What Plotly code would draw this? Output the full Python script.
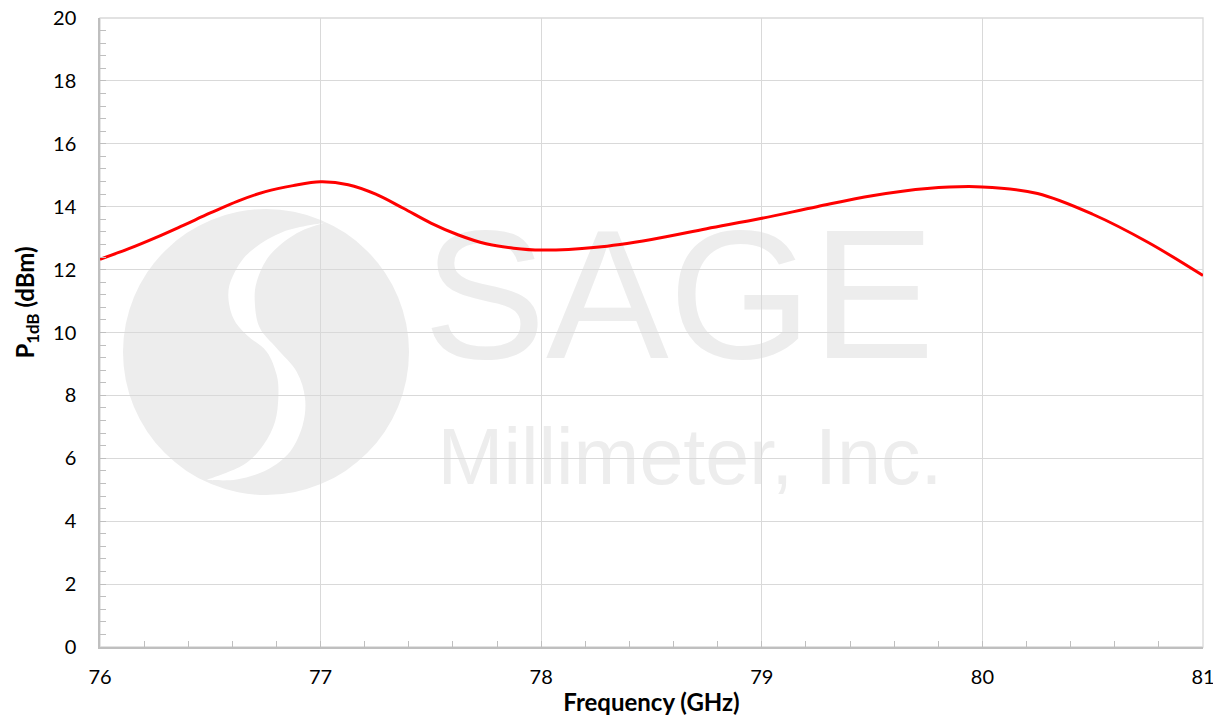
import plotly.graph_objects as go

# Data
freq_ghz = [76.0, 76.125, 76.25, 76.375, 76.5, 76.625, 76.75, 76.875, 77.0, 77.125,
            77.25, 77.375, 77.5, 77.625, 77.75, 77.875, 78.0, 78.25, 78.5,
            78.75, 79.0, 79.25, 79.5, 79.75, 80.0, 80.25, 80.5, 80.75, 81.0]
p1db_dbm = [12.33, 12.65, 13.01, 13.40, 13.80, 14.18, 14.48, 14.67, 14.79, 14.70,
            14.40, 13.95, 13.48, 13.10, 12.82, 12.68, 12.62, 12.71, 12.96,
            13.30, 13.63, 14.00, 14.35, 14.58, 14.63, 14.42, 13.76, 12.87, 11.81]

x_ticks = [76, 77, 78, 79, 80, 81]
y_ticks = [0, 2, 4, 6, 8, 10, 12, 14, 16, 18, 20]

# page has an 8px body margin; size the figure so the plot area lands in place
OFF = 8
W, H = 1212, 708
L, R, T, B = 92, 17, 10, 69
pw, ph = W - L - R, H - T - B


def px2paper(px, py):
    """page pixel -> paper coordinates (decoration only)"""
    return (px - OFF - L) / pw, (H - B - (py - OFF)) / ph


def smooth_path(points):
    """Catmull-Rom through pixel points -> cubic bezier path string in paper coords."""
    pts = [px2paper(a, b) for a, b in points]
    out = [f"M {pts[0][0]:.4f},{pts[0][1]:.4f}"]
    n = len(pts)
    for i in range(n - 1):
        p0 = pts[i - 1] if i > 0 else pts[i]
        p1, p2 = pts[i], pts[i + 1]
        p3 = pts[i + 2] if i + 2 < n else pts[i + 1]
        c1 = (p1[0] + (p2[0] - p0[0]) / 6, p1[1] + (p2[1] - p0[1]) / 6)
        c2 = (p2[0] - (p3[0] - p1[0]) / 6, p2[1] - (p3[1] - p1[1]) / 6)
        out.append(f"C {c1[0]:.4f},{c1[1]:.4f} {c2[0]:.4f},{c2[1]:.4f} {p2[0]:.4f},{p2[1]:.4f}")
    return " ".join(out)


WM = "#ededed"

# watermark logo: circle + white S band
cx0, cy0 = px2paper(123, 209)
cx1, cy1 = px2paper(409, 495)

left_edge = [
    (325, 222.5), (283.3, 231.7), (250, 251.7), (233.3, 275), (228.3, 295),
    (233.3, 318.3), (246.7, 335), (266.7, 351.7), (276.7, 375), (278.3, 397),
    (275, 421.7), (263.3, 445), (243.3, 465), (206.7, 480),
]
right_edge = [
    (206.7, 480), (236.7, 479.5), (266.7, 470), (290, 451.7), (302.7, 425), (305, 398.3),
    (296.7, 371.7), (276.7, 348.3), (260, 328.3), (255, 305), (256.7, 281.7),
    (270, 255), (296.7, 233.3), (325, 222.5),
]
path = smooth_path(left_edge) + " " + smooth_path(right_edge).replace("M", "L", 1) + " Z"

shapes = [
    dict(type="circle", xref="paper", yref="paper", x0=cx0, y0=cy1, x1=cx1, y1=cy0,
         fillcolor=WM, line=dict(width=0), layer="below"),
    dict(type="path", xref="paper", yref="paper", path=path,
         fillcolor="white", line=dict(width=0), layer="below"),
]

sx0, sy0 = px2paper(436, 367)
sx1, sy1 = px2paper(922, 187)
shapes.append(dict(type="rect", xref="paper", yref="paper", x0=sx0, y0=sy0, x1=sx1, y1=sy1,
                   line=dict(width=0), fillcolor="rgba(0,0,0,0)", layer="below",
                   label=dict(text="SAGE", font=dict(family="Liberation Sans, Arial",
                                                    size=184, color=WM),
                              textposition="middle center")))
mx0, my0 = px2paper(435, 493)
mx1, my1 = px2paper(945, 405)
shapes.append(dict(type="rect", xref="paper", yref="paper", x0=mx0, y0=my0, x1=mx1, y1=my1,
                   line=dict(width=0), fillcolor="rgba(0,0,0,0)", layer="below",
                   label=dict(text="Millimeter, Inc.", font=dict(family="Liberation Sans, Arial",
                                                                size=79, color=WM),
                              textposition="middle center")))
# plot area border
shapes.append(dict(type="rect", xref="paper", yref="paper", x0=0, y0=0, x1=1, y1=1,
                   line=dict(color="#d9d9d9", width=1.3), layer="below"))

# y-axis title placed as a rotated annotation (sits above the plot's vertical centre)
ytx, yty = px2paper(26, 302.5)
annotations = [dict(text="<b>P<sub>1dB</sub> (dBm)</b>", xref="paper", yref="paper",
                    x=ytx, y=yty, xanchor="center", yanchor="middle", textangle=-90,
                    showarrow=False,
                    font=dict(family="Lato, Liberation Sans, Arial", size=24, color="black"))]

fig = go.Figure()
fig.add_trace(go.Scatter(
    x=freq_ghz, y=p1db_dbm, mode="lines",
    line=dict(color="#ff0000", width=3, shape="spline", smoothing=1),
    showlegend=False, hoverinfo="x+y",
))

tick_font = dict(family="Lato, Liberation Sans, Arial", size=20, color="black")

fig.update_layout(
    width=W, height=H,
    margin=dict(l=L, r=R, t=T, b=B, autoexpand=False),
    paper_bgcolor="white", plot_bgcolor="white",
    shapes=shapes, annotations=annotations,
    xaxis=dict(
        range=[76, 81], tickvals=x_ticks, ticktext=[str(v) for v in x_ticks],
        showgrid=True, gridcolor="#d9d9d9", gridwidth=1.3,
        showline=True, linecolor="#bfbfbf", linewidth=1.5,
        ticks="inside", ticklen=6, tickcolor="#bfbfbf", tickwidth=1.3,
        minor=dict(dtick=0.2, ticks="inside", ticklen=6, tickcolor="#bfbfbf",
                   tickwidth=1.3, showgrid=False),
        tickfont=tick_font, ticklabelstandoff=11, ticklabeloverflow="allow",
        zeroline=False, automargin=False,
        title=dict(text="<b>Frequency (GHz)</b>",
                   font=dict(family="Lato, Liberation Sans, Arial", size=24, color="black"),
                   standoff=16),
    ),
    yaxis=dict(
        range=[0, 20], tickvals=y_ticks, ticktext=[str(v) for v in y_ticks],
        showgrid=True, gridcolor="#d9d9d9", gridwidth=1.3,
        showline=True, linecolor="#bfbfbf", linewidth=1.5,
        ticks="inside", ticklen=6, tickcolor="#bfbfbf", tickwidth=1.3,
        minor=dict(dtick=0.4, ticks="inside", ticklen=6, tickcolor="#bfbfbf",
                   tickwidth=1.3, showgrid=False),
        tickfont=tick_font, ticklabelstandoff=18, ticklabeloverflow="allow",
        zeroline=False, automargin=False,
    ),
)

fig.write_html("out.html")
